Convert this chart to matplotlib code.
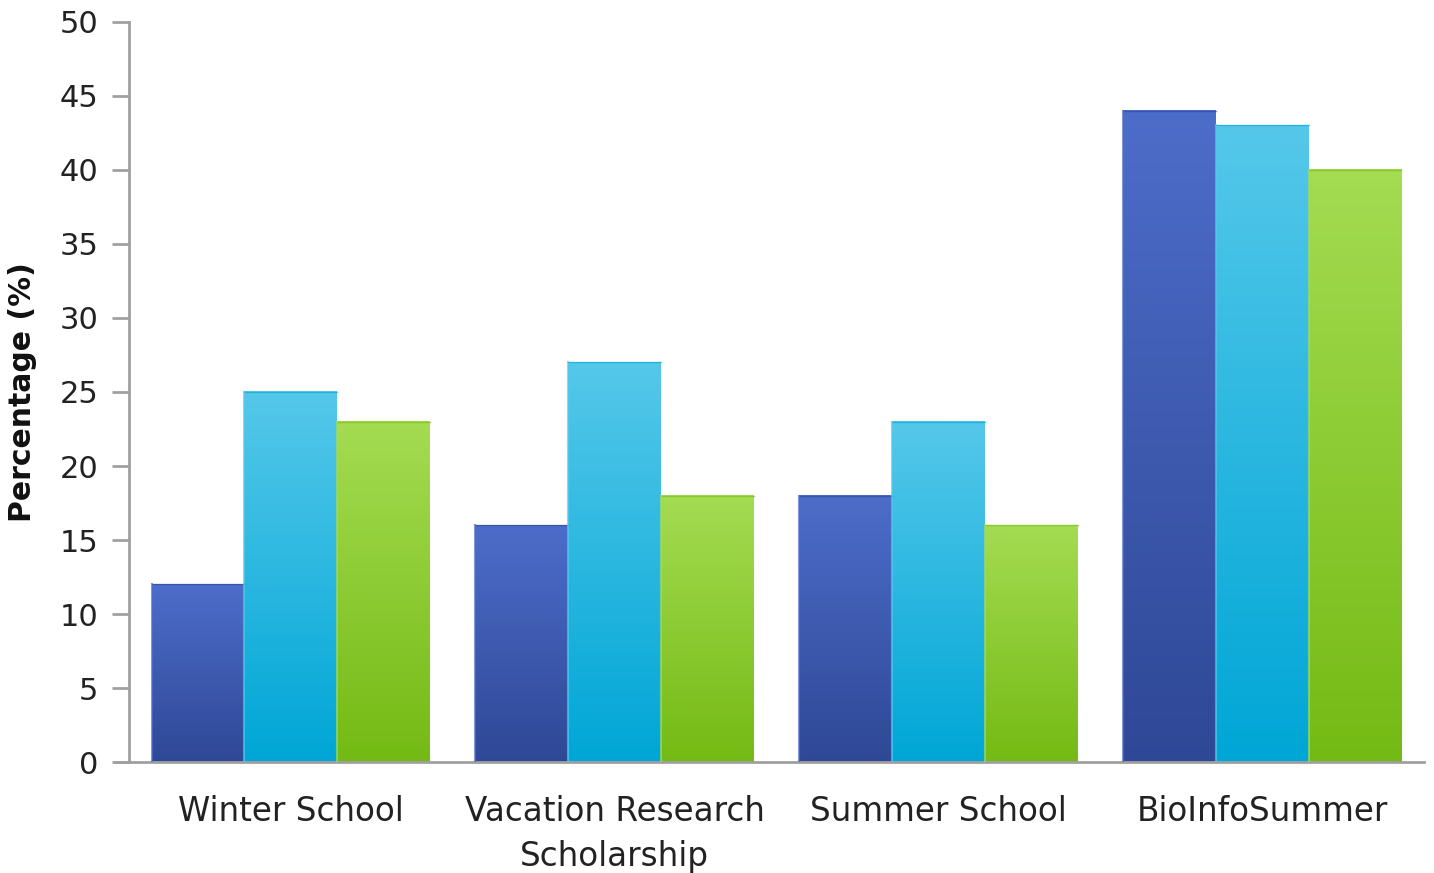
import numpy as np
import matplotlib.pyplot as plt
from matplotlib.colors import LinearSegmentedColormap

programs = ['Winter School', 'Vacation Research\nScholarship', 'Summer School', 'BioInfoSummer']
series_a = [12, 16, 18, 44]
series_b = [25, 27, 23, 43]
series_c = [23, 18, 16, 40]

# top colour, bottom colour for each series
shades = [('#4d6dca', '#2f4896'),
          ('#55c8ea', '#00a6d6'),
          ('#a4dc52', '#74ba14')]

fig = plt.figure(figsize=(14.34, 8.73), dpi=100)
ax = fig.add_axes([0.09, 0.127, 0.903, 0.848])

x = np.arange(len(programs))
width = 0.287
ramp = np.linspace(1, 0, 256).reshape(-1, 1)

for i, vals in enumerate([series_a, series_b, series_c]):
    top, bottom = shades[i]
    cmap = LinearSegmentedColormap.from_list('s%d' % i, [bottom, top])
    bars = ax.bar(x + (i - 1) * width, vals, width, color='none', edgecolor='none')
    for b in bars:
        x0, h = b.get_x(), b.get_height()
        ax.imshow(ramp, cmap=cmap, aspect='auto', vmin=0, vmax=1,
                  extent=[x0, x0 + width, 0, h], zorder=2)
        ax.plot([x0, x0 + width], [h, h], color=bottom, lw=1, alpha=0.6, zorder=3)
        # thin lighter rim on the bar sides
        ax.plot([x0, x0], [0, h], color=top, lw=1.5, alpha=0.7, zorder=3)

ax.set_xlim(-0.5, 3.5)
ax.set_ylim(0, 50)
ax.set_yticks(range(0, 51, 5))
ax.set_xticks(x)
ax.set_xticklabels(programs, fontsize=23.5, color='#222222', linespacing=1.45)
ax.tick_params(axis='y', labelsize=22, labelcolor='#222222', length=12, width=2,
               color='#a0a0a0', direction='out', pad=10)
ax.tick_params(axis='x', length=0, pad=24)
ax.set_ylabel('Percentage (%)', fontsize=21.5, fontweight='bold', color='#111111', labelpad=16)

for side in ['top', 'right']:
    ax.spines[side].set_visible(False)
for side in ['left', 'bottom']:
    ax.spines[side].set_color('#a0a0a0')
    ax.spines[side].set_linewidth(2)
# baseline runs a little past the y axis
ax.plot([-0.54, -0.5], [0, 0], color='#a0a0a0', lw=2, clip_on=False)

fig.savefig('out.png', dpi=100)
